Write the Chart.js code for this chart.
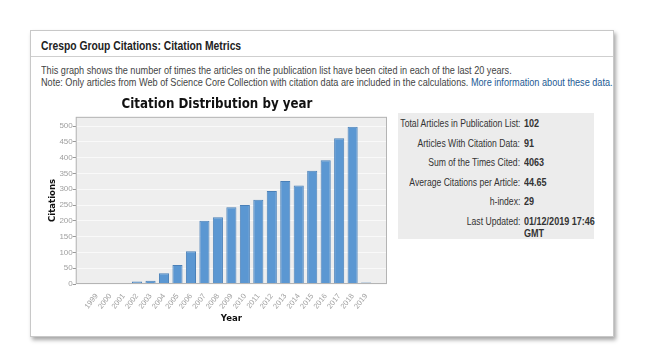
<!DOCTYPE html>
<html><head><meta charset="utf-8">
<script src="https://cdn.jsdelivr.net/npm/chart.js@4/dist/chart.umd.min.js"></script>
<style>
html,body{margin:0;padding:0;background:#fff;width:646px;height:364px;overflow:hidden;font-family:"Liberation Sans",Arial,sans-serif;}
#panel{position:absolute;left:30px;top:30px;width:582px;height:305px;border:1px solid #c8c8c8;box-shadow:2px 3px 4px rgba(0,0,0,0.35);background:#fff;}
#hdr{position:absolute;left:0;top:0;width:582px;height:25px;border-bottom:1px solid #cfcfcf;}
#hdr span{position:absolute;left:10px;top:8px;font-size:12px;font-weight:bold;color:#222;transform:scaleX(0.86);transform-origin:0 0;white-space:nowrap;}
#desc{position:absolute;left:10px;top:33px;font-size:10.5px;color:#444;line-height:12px;white-space:nowrap;transform:scaleX(0.87);transform-origin:0 0;}
#desc a{color:#1c5a94;text-decoration:none;}
#cw{position:absolute;left:10px;top:62px;width:352px;height:236px;}
#stats{position:absolute;left:367px;top:82px;width:196px;height:126px;background:#ececec;font-size:10.5px;color:#333;}
#stats div{position:absolute;white-space:nowrap;}
.l{right:74px;transform:scaleX(0.82);transform-origin:100% 0;}
.v{left:126px;font-weight:bold;transform:scaleX(0.86);transform-origin:0 0;}
</style></head><body>
<div id="panel">
 <div id="hdr"><span>Crespo Group Citations: Citation Metrics</span></div>
 <div id="desc">This graph shows the number of times the articles on the publication list have been cited in each of the last 20 years.<br>Note: Only articles from Web of Science Core Collection with citation data are included in the calculations. <a>More information about these data.</a></div>
 <div id="cw"><canvas id="c" width="352" height="236"></canvas></div>
 <div id="stats"></div>
</div>
<script>
const years = [1999,2000,2001,2002,2003,2004,2005,2006,2007,2008,2009,2010,2011,2012,2013,2014,2015,2016,2017,2018,2019];
const citations = [1,0,0,8,10,34,60,104,200,211,243,250,267,294,326,312,358,392,461,498,5];
const yTicks = [0,50,100,150,200,250,300,350,400,450,500];
const statLabels = ["Total Articles in Publication List:","Articles With Citation Data:","Sum of the Times Cited:","Average Citations per Article:","h-index:","Last Updated:"];
const statValues = ["102","91","4063","44.65","29","01/12/2019 17:46"];

const st = document.getElementById('stats');
statLabels.forEach((l,i)=>{
  const top = 4 + i*19.5;
  const a = document.createElement('div'); a.className='l'; a.style.top=top+'px'; a.textContent=l; st.appendChild(a);
  const b = document.createElement('div'); b.className='v'; b.style.top=top+'px'; b.textContent=statValues[i]; st.appendChild(b);
});
const g = document.createElement('div'); g.className='v'; g.style.top=(4+5*19.5+12)+'px'; g.textContent='GMT'; st.appendChild(g);

const bgPlugin = {
  id:'bg',
  beforeDraw(chart){
    const {ctx, chartArea:a} = chart;
    ctx.save(); ctx.fillStyle='#eeeeee'; ctx.fillRect(a.left,a.top,a.right-a.left,a.bottom-a.top); ctx.restore();
  },
  afterDraw(chart){
    const {ctx, chartArea:a} = chart;
    ctx.save(); ctx.strokeStyle='#b4b4b4'; ctx.lineWidth=1;
    ctx.strokeRect(a.left+0.5,a.top+0.5,a.right-a.left-1,a.bottom-a.top-1); ctx.restore();
  }
};

new Chart(document.getElementById('c'), {
  type:'bar',
  data:{ datasets:[{ data: years.map((y,i)=>({x:y,y:citations[i]})), backgroundColor:'#5b97d2', borderColor:'#4a80b8', borderWidth:1, barPercentage:0.75, categoryPercentage:1 }]},
  options:{
    responsive:false, animation:false,
    layout:{padding:{left:6,right:6,top:0,bottom:0}},
    plugins:{
      legend:{display:false}, tooltip:{enabled:false},
      title:{display:true, text:'Citation Distribution by year', font:{family:'DejaVu Sans Condensed', size:13.2, weight:'bold'}, color:'#111', padding:{top:4,bottom:4}}
    },
    scales:{
      x:{ type:'linear', min:1997.45, max:2020.55, offset:false,
          afterBuildTicks:s=>{ s.ticks = years.map(v=>({value:v})); },
          afterFit:s=>{ s.height = 45; },
          ticks:{ autoSkip:false, minRotation:52, maxRotation:52, color:'#a0a0a0', font:{family:'Liberation Sans', size:7.5}, callback:v=>String(v), padding:0 },
          grid:{display:false}, border:{display:false},
          title:{display:true, text:'Year', font:{family:'DejaVu Sans Condensed', size:9.5, weight:'bold'}, color:'#111', padding:{top:2,bottom:5}} },
      y:{ min:0, max:529,
          afterBuildTicks:s=>{ s.ticks = yTicks.map(v=>({value:v})); },
          ticks:{ color:'#a0a0a0', font:{family:'Liberation Sans', size:8}, padding:0 },
          grid:{ color:'#f9f9f9', lineWidth:1, tickLength:3, tickColor:'#999', drawOnChartArea:true },
          border:{display:false},
          title:{display:true, text:'Citations', font:{family:'DejaVu Sans Condensed', size:9.5, weight:'bold'}, color:'#111', padding:{top:0,bottom:1}} }
    }
  },
  plugins:[bgPlugin]
});
</script>
</body></html>
